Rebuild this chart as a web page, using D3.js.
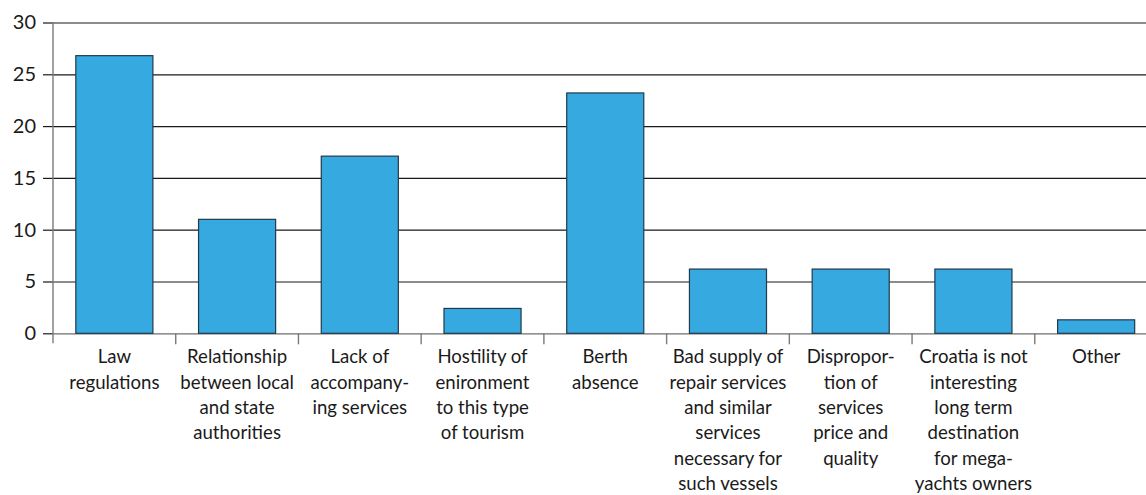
<!DOCTYPE html>
<html>
<head>
<meta charset="utf-8">
<script src="https://cdn.jsdelivr.net/npm/d3@7"></script>
<style>
  body { margin: 0; background: #fff; }
  svg { display: block; font-family: Lato, "Noto Sans", sans-serif; }
</style>
</head>
<body>
<svg></svg>
<script>
const width = 1146;
const height = 495;
const plotLeft = 53;
const plotRight = 1157.5;
const plotTop = 22.5;
const plotBottom = 333.3;

const categories = [
  "Law regulations",
  "Relationship between local and state authorities",
  "Lack of accompanying services",
  "Hostility of enironment to this type of tourism",
  "Berth absence",
  "Bad supply of repair services and similar services necessary for such vessels",
  "Disproportion of services price and quality",
  "Croatia is not interesting long term destination for mega-yachts owners",
  "Other",
];
const values = [26.8, 11.0, 17.1, 2.4, 23.2, 6.2, 6.2, 6.2, 1.3];
const tickLabels = [
  ["Law", "regulations"],
  ["Relationship", "between local", "and state", "authorities"],
  ["Lack of", "accompany-", "ing services"],
  ["Hostility of", "enironment", "to this type", "of tourism"],
  ["Berth", "absence"],
  ["Bad supply of", "repair services", "and similar", "services", "necessary for", "such vessels"],
  ["Dispropor-", "tion of", "services", "price and", "quality"],
  ["Croatia is not", "interesting", "long term", "destination", "for mega-", "yachts owners"],
  ["Other"],
];
const yTicks = [0, 5, 10, 15, 20, 25, 30];

const svg = d3.select("svg").attr("width", width).attr("height", height);

const xScale = d3
  .scaleBand()
  .domain(categories)
  .range([plotLeft, plotRight])
  .paddingInner(0.372)
  .paddingOuter(0.186);

const yScale = d3.scaleLinear().domain([0, 30]).range([plotBottom, plotTop]);

// gridlines
const grid = svg
  .append("g")
  .attr("transform", `translate(${plotLeft}, 0)`)
  .call(d3.axisLeft(yScale).tickValues(yTicks).tickSize(-(width - plotLeft)).tickFormat(""));
grid.select(".domain").remove();
grid.selectAll("line").attr("stroke", "#1a1a1a").attr("stroke-width", 1.2);
grid.selectAll("line").filter((d) => d === 0).attr("stroke", "#6e6e6e");

// y axis ticks and labels
const yAxis = svg
  .append("g")
  .attr("transform", `translate(${plotLeft}, 0)`)
  .call(d3.axisLeft(yScale).tickValues(yTicks).tickSize(10).tickPadding(7));
yAxis.select(".domain").remove();
yAxis.selectAll("line").attr("stroke", "#1a1a1a").attr("stroke-width", 1.2);
yAxis.selectAll("text").attr("font-size", 20).attr("fill", "#1a1a1a").attr("font-family", "Lato, sans-serif");

// bars
svg
  .selectAll("rect.bar")
  .data(values)
  .enter()
  .append("rect")
  .attr("class", "bar")
  .attr("x", (d, i) => xScale(categories[i]))
  .attr("y", (d) => yScale(d))
  .attr("width", xScale.bandwidth())
  .attr("height", (d) => plotBottom - yScale(d))
  .attr("fill", "#36a9e0")
  .attr("stroke", "#22394a")
  .attr("stroke-width", 1.2);

// vertical axis line
svg
  .append("line")
  .attr("x1", plotLeft)
  .attr("x2", plotLeft)
  .attr("y1", plotTop)
  .attr("y2", plotBottom + 10)
  .attr("stroke", "#7a7a7a")
  .attr("stroke-width", 1.4);

// category boundary ticks
const half = (xScale.step() * xScale.paddingInner()) / 2;
svg
  .selectAll("line.xtick")
  .data(categories.slice(1))
  .enter()
  .append("line")
  .attr("class", "xtick")
  .attr("x1", (d) => xScale(d) - half)
  .attr("x2", (d) => xScale(d) - half)
  .attr("y1", plotBottom)
  .attr("y2", plotBottom + 11)
  .attr("stroke", "#7a7a7a")
  .attr("stroke-width", 1.4);

// category labels
const labels = svg
  .selectAll("text.xlabel")
  .data(categories)
  .enter()
  .append("text")
  .attr("class", "xlabel")
  .attr("text-anchor", "middle")
  .attr("font-size", 18.6)
  .attr("fill", "#1a1a1a")
  .attr("x", (d) => xScale(d) + xScale.bandwidth() / 2)
  .attr("y", plotBottom + 30);

labels
  .selectAll("tspan")
  .data((d, i) => tickLabels[i].map((t) => ({ t, x: xScale(d) + xScale.bandwidth() / 2 })))
  .enter()
  .append("tspan")
  .attr("x", (d) => d.x)
  .attr("dy", (d, i) => (i === 0 ? 0 : 25.3))
  .text((d) => d.t);
</script>
</body>
</html>
